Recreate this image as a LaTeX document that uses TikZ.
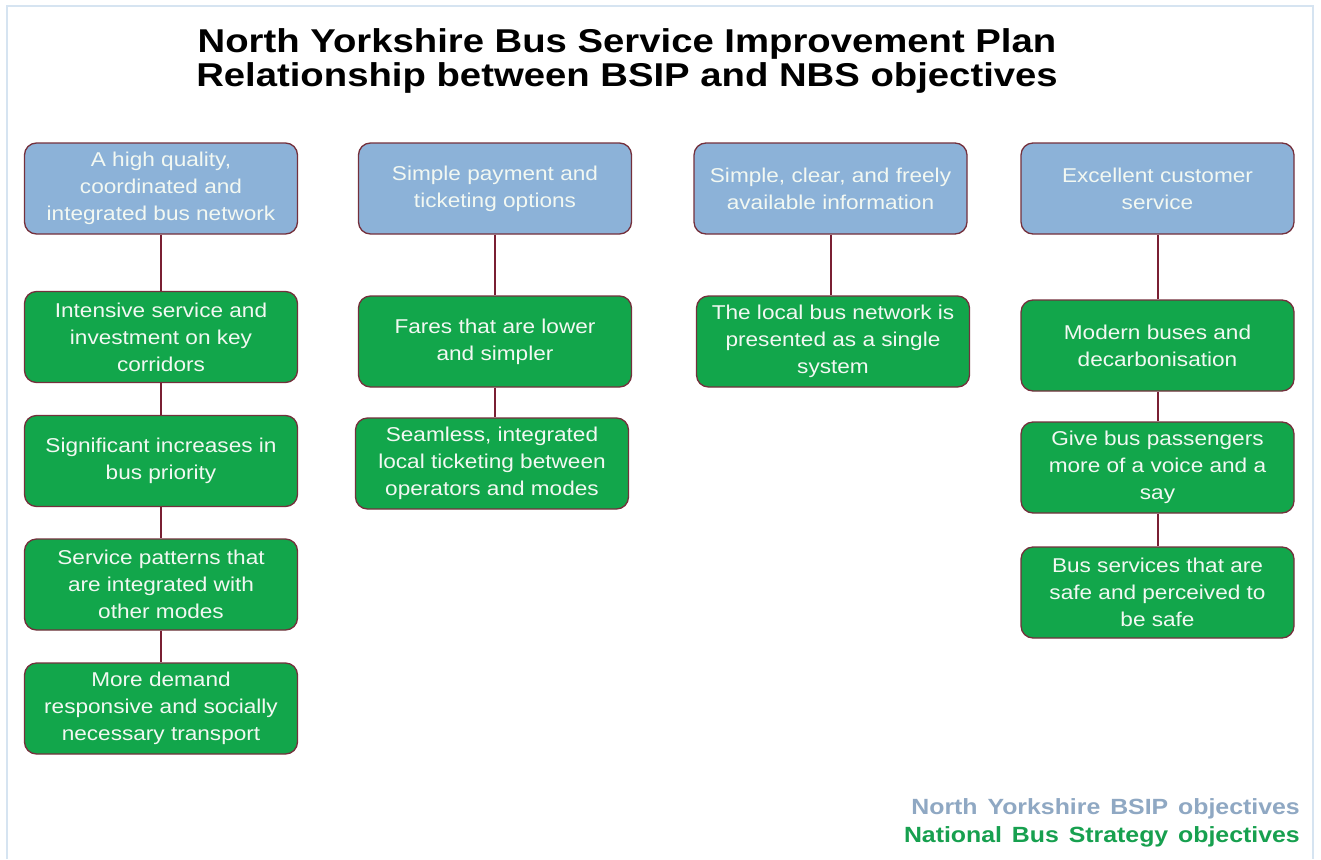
\documentclass[tikz,border=0pt]{standalone}
\usepackage{fontspec}
\setmainfont{Liberation Sans}[FakeStretch=1.13]
\newfontfamily\titlefont{Liberation Sans}[FakeStretch=1.16]
\definecolor{bsipfill}{HTML}{8CB2D8}
\definecolor{nbsfill}{HTML}{12A64B}
\definecolor{boxline}{HTML}{74303C}
\definecolor{linkline}{HTML}{7A1F33}
\definecolor{frameblue}{HTML}{D6E4F1}
\definecolor{legendblue}{HTML}{8FA8C3}
\definecolor{legendgreen}{HTML}{17A04F}
\definecolor{boxtext}{HTML}{F2F8F2}
\newcommand\widewordspace{\spaceskip=0.45em\relax}
\begin{document}
\begin{tikzpicture}[x=1pt,y=-1pt,
  objbox/.style={draw=boxline, line width=1.3pt, rounded corners=12pt,
    minimum width=273pt, minimum height=91pt, align=center, inner sep=2pt,
    text=boxtext, font=\fontsize{20}{27}\selectfont},
  bsip/.style={objbox, fill=bsipfill},
  nbs/.style={objbox, fill=nbsfill},
  link/.style={draw=linkline, line width=2pt},
  legend/.style={anchor=base east, inner sep=0pt, font=\fontsize{22}{28}\selectfont\bfseries\widewordspace}
]
\useasboundingbox (0,0) rectangle (1321,859);
\fill[white] (0,0) rectangle (1321,859);
\draw[frameblue, line width=2pt] (7,859) -- (7,6) -- (1313,6) -- (1313,859);

% Title
\node[anchor=base, align=center, inner sep=0pt, font=\titlefont\fontsize{33}{34}\selectfont\bfseries] (title) at (627,86)
  {North Yorkshire Bus Service Improvement Plan\\Relationship between BSIP and NBS objectives};

% Column 1
\node[bsip] (a0) at (161,188.5) {A high quality,\\coordinated and\\integrated bus network};
\node[nbs] (a1) at (161,337) {Intensive service and\\investment on key\\corridors};
\node[nbs] (a2) at (161,461) {Significant increases in\\bus priority};
\node[nbs] (a3) at (161,584.5) {Service patterns that\\are integrated with\\other modes};
\node[nbs] (a4) at (161,708.5) {More demand\\responsive and socially\\necessary transport};

% Column 2
\node[bsip] (b0) at (495,188.5) {Simple payment and\\ticketing options};
\node[nbs] (b1) at (495,341.5) {Fares that are lower\\and simpler};
\node[nbs] (b2) at (492,463.5) {Seamless, integrated\\local ticketing between\\operators and modes};

% Column 3
\node[bsip] (c0) at (830.5,188.5) {Simple, clear, and freely\\available information};
\node[nbs] (c1) at (833,341.5) {The local bus network is\\presented as a single\\system};

% Column 4
\node[bsip] (d0) at (1157.5,188.5) {Excellent customer\\service};
\node[nbs] (d1) at (1157.5,345.5) {Modern buses and\\decarbonisation};
\node[nbs] (d2) at (1157.5,467.5) {Give bus passengers\\more of a voice and a\\say};
\node[nbs] (d3) at (1157.5,592.5) {Bus services that are\\safe and perceived to\\be safe};

% Connectors
\draw[link] (a0.south) -- (a1.north);
\draw[link] (a1.south) -- (a2.north);
\draw[link] (a2.south) -- (a3.north);
\draw[link] (a3.south) -- (a4.north);
\draw[link] (b0.south) -- (b1.north);
\draw[link] (b1.south) -- (b1.south |- b2.north);
\draw[link] (c0.south) -- (c0.south |- c1.north);
\draw[link] (d0.south) -- (d1.north);
\draw[link] (d1.south) -- (d2.north);
\draw[link] (d2.south) -- (d3.north);

% Legend
\node[legend, text=legendblue] (leg1) at (1300,814) {North Yorkshire BSIP objectives};
\node[legend, text=legendgreen] (leg2) at (1300,842) {National Bus Strategy objectives};
\end{tikzpicture}
\end{document}
